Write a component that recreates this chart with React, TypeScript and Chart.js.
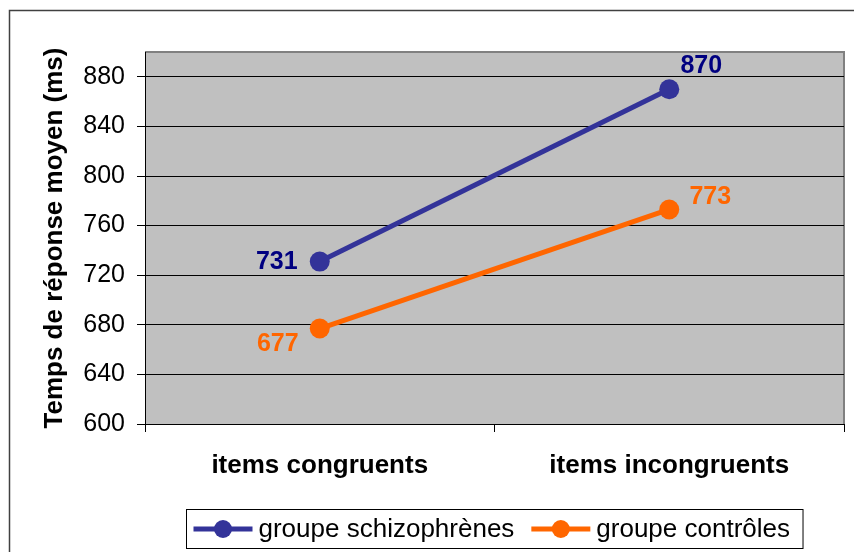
import React, { useEffect, useRef } from "react";
import { Chart, registerables } from "chart.js";

Chart.register(...registerables);

const CATEGORIES = ["items congruents", "items incongruents"];
const SERIES_NAMES = ["groupe schizophrènes", "groupe contrôles"];
const SCHIZO_VALUES = [731, 870];
const CONTROL_VALUES = [677, 773];
const Y_TICKS = [600, 640, 680, 720, 760, 800, 840, 880];
const Y_TITLE = "Temps de réponse moyen (ms)";

// style-only constants
const SERIES_COLORS = ["#333399", "#FF6600"];
const LABEL_COLORS = ["#000080", "#FF6600"];
const LABEL_OFFSETS = [
  [[-43, 1], [32, -23]],
  [[-42, 16], [41, -12]],
];
const FONT = "'Liberation Sans', Arial, sans-serif";

const framePlugin = {
  id: "frame",
  beforeDraw(chart: any) {
    const { ctx, chartArea: a } = chart;
    ctx.save();
    ctx.fillStyle = "#ffffff";
    ctx.fillRect(0, 0, chart.width, chart.height);
    ctx.strokeStyle = "#404040";
    ctx.lineWidth = 1.5;
    ctx.strokeRect(9.5, 10.5, chart.width + 20, chart.height + 20);
    ctx.fillStyle = "#C0C0C0";
    ctx.fillRect(a.left, a.top, a.right - a.left, a.bottom - a.top);
    ctx.strokeStyle = "#808080";
    ctx.lineWidth = 2;
    ctx.beginPath();
    ctx.moveTo(a.left, a.top);
    ctx.lineTo(a.right, a.top);
    ctx.lineTo(a.right, a.bottom);
    ctx.stroke();
    ctx.restore();
  },
};

const labelsPlugin = {
  id: "pointLabels",
  afterDatasetsDraw(chart: any) {
    const { ctx } = chart;
    ctx.save();
    ctx.font = `bold 25px ${FONT}`;
    ctx.textAlign = "center";
    ctx.textBaseline = "middle";
    chart.data.datasets.forEach((ds: any, i: number) => {
      const meta = chart.getDatasetMeta(i);
      meta.data.forEach((pt: any, j: number) => {
        const [dx, dy] = LABEL_OFFSETS[i][j];
        ctx.fillStyle = LABEL_COLORS[i];
        ctx.fillText(String(ds.data[j]), pt.x + dx, pt.y + dy);
      });
    });
    ctx.restore();
  },
};

const legendPlugin = {
  id: "customLegend",
  afterDraw(chart: any) {
    const { ctx, chartArea: a } = chart;
    ctx.save();
    ctx.font = `26px ${FONT}`;
    const lineLen = 59;
    const gap = 6;
    const itemGap = 17;
    const padL = 7;
    const padR = 13;
    const widths = chart.data.datasets.map((d: any) => ctx.measureText(d.label).width);
    let total = padL + padR;
    widths.forEach((w: number, i: number) => {
      total += lineLen + gap + w + (i > 0 ? itemGap : 0);
    });
    const cx = (a.left + a.right) / 2;
    const left = Math.round(cx - total / 2) + 0.5;
    const top = 509.5;
    const h = 39;
    ctx.fillStyle = "#ffffff";
    ctx.fillRect(left, top, total, h);
    ctx.strokeStyle = "#000000";
    ctx.lineWidth = 1;
    ctx.strokeRect(left, top, total, h);
    let x = left + padL;
    const cy = top + h / 2;
    chart.data.datasets.forEach((d: any, i: number) => {
      if (i > 0) x += itemGap;
      ctx.strokeStyle = d.borderColor;
      ctx.lineWidth = 5;
      ctx.beginPath();
      ctx.moveTo(x, cy);
      ctx.lineTo(x + lineLen, cy);
      ctx.stroke();
      ctx.fillStyle = d.borderColor;
      ctx.beginPath();
      ctx.arc(x + lineLen / 2, cy, 9, 0, Math.PI * 2);
      ctx.fill();
      x += lineLen + gap;
      ctx.fillStyle = "#000000";
      ctx.textAlign = "left";
      ctx.textBaseline = "middle";
      ctx.fillText(d.label, x, cy + 1);
      x += widths[i];
    });
    ctx.restore();
  },
};

export default function App() {
  const ref = useRef<HTMLCanvasElement>(null);
  useEffect(() => {
    const canvas = ref.current!;
    const chart = new Chart(canvas, {
      type: "line",
      data: {
        labels: CATEGORIES,
        datasets: [SCHIZO_VALUES, CONTROL_VALUES].map((vals, i) => ({
          label: SERIES_NAMES[i],
          data: vals,
          borderColor: SERIES_COLORS[i],
          backgroundColor: SERIES_COLORS[i],
          pointBackgroundColor: SERIES_COLORS[i],
          pointBorderColor: SERIES_COLORS[i],
          borderWidth: 5,
          pointRadius: 10,
          pointBorderWidth: 0,
          tension: 0,
          fill: false,
        })),
      },
      options: {
        animation: false,
        responsive: false,
        devicePixelRatio: 1,
        layout: { padding: { top: 52, right: 9, left: 0, bottom: 0 } },
        plugins: {
          legend: { display: false },
          tooltip: { enabled: false },
          title: { display: false },
        },
        scales: {
          x: {
            type: "category",
            offset: true,
            afterFit(scale: any) {
              scale.height = 128;
            },
            grid: {
              display: true,
              drawOnChartArea: false,
              drawTicks: true,
              tickLength: 8,
              color: "#000000",
              offset: true,
            },
            border: { display: true, color: "#000000", width: 1 },
            ticks: {
              color: "#000000",
              padding: 18,
              maxRotation: 0,
              font: { family: FONT, size: 26, weight: "bold" },
            },
          },
          y: {
            min: 600,
            max: 900,
            afterFit(scale: any) {
              scale.width = 145;
            },
            afterBuildTicks(scale: any) {
              scale.ticks = Y_TICKS.map((v) => ({ value: v }));
            },
            grid: {
              color: "#000000",
              lineWidth: 1,
              drawTicks: true,
              tickLength: 8,
            },
            border: { display: true, color: "#000000", width: 1 },
            ticks: {
              color: "#000000",
              padding: 12,
              font: { family: FONT, size: 25 },
            },
            title: {
              display: true,
              text: Y_TITLE,
              color: "#000000",
              padding: { top: 39, bottom: 0 },
              font: { family: FONT, size: 26, weight: "bold" },
            },
          },
        },
      },
      plugins: [framePlugin, labelsPlugin, legendPlugin],
    } as any);
    return () => chart.destroy();
  }, []);
  return (
    <canvas
      ref={ref}
      width={854}
      height={552}
      style={{ position: "fixed", left: 0, top: 0, width: 854, height: 552 }}
    />
  );
}
